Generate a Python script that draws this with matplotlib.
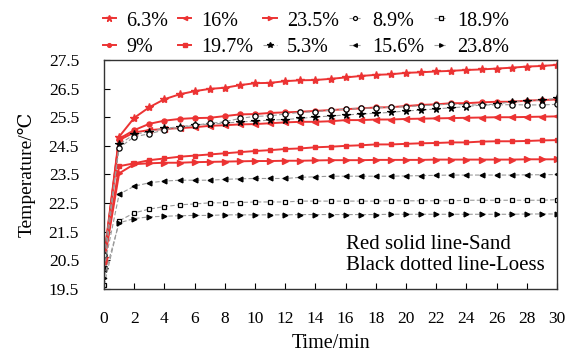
import matplotlib
matplotlib.use("Agg")
import matplotlib.pyplot as plt

plt.rcParams['font.family'] = ['Liberation Serif', 'DejaVu Serif']
plt.rcParams['mathtext.fontset'] = 'stix'

time = list(range(31))

# Sand (red solid lines)
sand_63 = [20.60, 24.82, 25.48, 25.85, 26.13, 26.30, 26.41, 26.49, 26.53, 26.62, 26.69,
           26.70, 26.76, 26.79, 26.80, 26.84, 26.89, 26.94, 26.98, 27.00, 27.05,
           27.07, 27.10, 27.12, 27.15, 27.17, 27.20, 27.23, 27.27, 27.29, 27.33]
sand_9 = [20.55, 24.75, 25.05, 25.27, 25.38, 25.44, 25.47, 25.48, 25.54, 25.60, 25.61,
          25.65, 25.67, 25.69, 25.72, 25.75, 25.78, 25.81, 25.84, 25.85, 25.89,
          25.93, 25.95, 25.99, 25.99, 26.02, 26.04, 26.04, 26.08, 26.10, 26.12]
sand_16 = [20.50, 24.70, 24.97, 25.05, 25.09, 25.12, 25.15, 25.20, 25.22, 25.25, 25.26,
           25.29, 25.32, 25.34, 25.34, 25.36, 25.40, 25.40, 25.42, 25.42, 25.44,
           25.45, 25.46, 25.47, 25.48, 25.49, 25.50, 25.50, 25.51, 25.52, 25.53]
sand_197 = [20.45, 23.79, 23.89, 24.00, 24.06, 24.12, 24.16, 24.20, 24.24, 24.28, 24.32,
            24.35, 24.39, 24.41, 24.45, 24.47, 24.50, 24.52, 24.55, 24.55, 24.57,
            24.59, 24.60, 24.62, 24.62, 24.65, 24.66, 24.66, 24.67, 24.69, 24.70]
sand_235 = [20.40, 23.54, 23.86, 23.89, 23.91, 23.91, 23.93, 23.94, 23.95, 23.96, 23.97,
            23.97, 23.98, 23.98, 23.99, 24.00, 24.00, 24.00, 24.01, 24.01, 24.01,
            24.01, 24.02, 24.02, 24.02, 24.02, 24.02, 24.02, 24.03, 24.03, 24.03]

# Loess (black dotted lines)
loess_53 = [20.20, 24.55, 24.90, 25.00, 25.11, 25.17, 25.23, 25.26, 25.29, 25.34, 25.36,
            25.40, 25.42, 25.46, 25.51, 25.54, 25.58, 25.61, 25.64, 25.67, 25.72,
            25.75, 25.79, 25.83, 25.87, 25.93, 25.96, 26.04, 26.08, 26.10, 26.16]
loess_89 = [20.70, 24.43, 24.82, 24.92, 25.06, 25.14, 25.22, 25.29, 25.34, 25.46, 25.53,
            25.55, 25.61, 25.67, 25.69, 25.75, 25.78, 25.81, 25.83, 25.85, 25.87,
            25.90, 25.93, 25.96, 25.93, 25.93, 25.93, 25.94, 25.93, 25.93, 25.95]
loess_156 = [20.25, 22.81, 23.09, 23.21, 23.27, 23.30, 23.30, 23.30, 23.33, 23.35, 23.36,
             23.36, 23.36, 23.40, 23.42, 23.44, 23.44, 23.44, 23.44, 23.44, 23.45,
             23.46, 23.47, 23.48, 23.48, 23.48, 23.48, 23.48, 23.49, 23.49, 23.50]
loess_189 = [19.63, 21.88, 22.16, 22.29, 22.38, 22.44, 22.47, 22.51, 22.51, 22.52, 22.54,
             22.54, 22.54, 22.57, 22.57, 22.57, 22.57, 22.57, 22.57, 22.58, 22.58,
             22.58, 22.58, 22.58, 22.60, 22.60, 22.60, 22.60, 22.60, 22.60, 22.62]
loess_238 = [19.90, 21.81, 21.96, 22.02, 22.04, 22.06, 22.07, 22.07, 22.09, 22.09, 22.09,
             22.09, 22.09, 22.10, 22.10, 22.10, 22.10, 22.10, 22.10, 22.11, 22.11,
             22.11, 22.11, 22.11, 22.11, 22.11, 22.11, 22.11, 22.12, 22.12, 22.12]

x_ticks = list(range(0, 31, 2))
y_ticks = [19.5, 20.5, 21.5, 22.5, 23.5, 24.5, 25.5, 26.5, 27.5]

red = '#ec3333'
fig = plt.figure(figsize=(5.78, 3.57), dpi=100)
ax = fig.add_axes([0.18, 0.1905, 0.7837, 0.6415])

def red_line(y, marker, label, ms=4.0):
    ax.plot(time, y, color=red, lw=1.4, marker=marker, ms=ms, mfc=red, mec=red, label=label)

def black_line(y, marker, label, ms=3.5, mfc='black'):
    ax.plot(time, y, color='#9a9a9a', lw=0.8, ls=(0, (4, 2)), marker=marker, ms=ms,
            mfc=mfc, mec='black', mew=0.9, label=label)

# order chosen so the column-major legend reads row by row like the original
red_line(sand_63, '*', '6.3%', ms=6)
red_line(sand_9, 'o', '9%', ms=3.6)
red_line(sand_16, '<', '16%')
red_line(sand_197, 's', '19.7%', ms=3.4)
red_line(sand_235, '>', '23.5%')
black_line(loess_53, '*', '5.3%', ms=5.5)
black_line(loess_89, 'o', '8.9%', ms=3.8, mfc='white')
black_line(loess_156, '<', '15.6%')
black_line(loess_189, 's', '18.9%', ms=3.2, mfc='white')
black_line(loess_238, '>', '23.8%')

ax.set_xlim(0, 30)
ax.set_ylim(19.5, 27.5)
ax.set_xticks(x_ticks)
ax.set_yticks(y_ticks)
ax.tick_params(axis='x', direction='in', length=4, pad=16, labelsize=12.5, top=False)
ax.tick_params(axis='y', direction='in', length=4, pad=18, labelsize=12.5, right=False)
for s in ax.spines.values():
    s.set_linewidth(1.0)
    s.set_color('#333333')

ax.set_xlabel('Time/min', fontsize=14.5, labelpad=5)
ax.set_ylabel('Temperature/℃', fontsize=14, labelpad=9)

ax.text(0.535, 0.148, 'Red solid line-Sand\nBlack dotted line-Loess', transform=ax.transAxes,
        fontsize=15, ha='left', va='center', linespacing=1.12)

fig.legend(loc='upper left', bbox_to_anchor=(0.178, 0.968), ncol=5, frameon=False,
           fontsize=14.5, handlelength=0.65, handletextpad=0.5, columnspacing=0.5,
           labelspacing=0.35, borderpad=0.0, borderaxespad=0.0, markerscale=0.75)

fig.savefig('out.png', dpi=100)
